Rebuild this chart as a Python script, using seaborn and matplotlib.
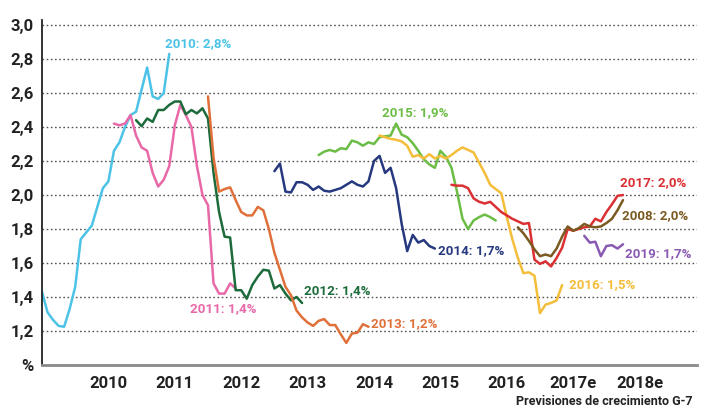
import numpy as np
import pandas as pd
import matplotlib
matplotlib.use("Agg")
import matplotlib.pyplot as plt
import seaborn as sns

# ---------------- data ----------------
series_names = ["2010", "2011", "2012", "2013", "2014", "2015", "2016", "2017", "2008", "2019"]
start_months = ["2009-01", "2010-02", "2010-06", "2011-07", "2012-07",
                "2013-03", "2014-02", "2015-03", "2016-03", "2017-03"]
label_texts = ["2010: 2,8%", "2011: 1,4%", "2012: 1,4%", "2013: 1,2%", "2014: 1,7%",
               "2015: 1,9%", "2016: 1,5%", "2017: 2,0%", "2008: 2,0%", "2019: 1,7%"]

v2010 = [1.43, 1.31, 1.265, 1.23, 1.225, 1.33, 1.46, 1.74, 1.78, 1.82, 1.93, 2.04,
         2.08, 2.26, 2.31, 2.40, 2.47, 2.49, 2.62, 2.75, 2.58, 2.565, 2.60, 2.83]
v2011 = [2.42, 2.41, 2.42, 2.47, 2.35, 2.28, 2.26, 2.13, 2.05, 2.09, 2.17,
         2.41, 2.53, 2.47, 2.40, 2.17, 2.00, 1.94, 1.48, 1.42, 1.42, 1.48, 1.45]
v2012 = [2.44, 2.405, 2.45, 2.43, 2.50, 2.50, 2.53,
         2.55, 2.55, 2.475, 2.50, 2.48, 2.51, 2.45, 2.13, 1.90, 1.755, 1.75, 1.44,
         1.44, 1.39, 1.47, 1.52, 1.56, 1.555, 1.45, 1.47, 1.42, 1.38, 1.40, 1.365]
v2013 = [2.58, 2.22, 2.02, 2.035, 2.045, 1.97,
         1.90, 1.88, 1.88, 1.93, 1.91, 1.80, 1.66, 1.56, 1.46, 1.41, 1.32, 1.28,
         1.25, 1.23, 1.26, 1.27, 1.235, 1.235, 1.18, 1.13, 1.185, 1.19, 1.24, 1.225]
v2014 = [2.14, 2.185, 2.02, 2.015, 2.075, 2.075,
         2.06, 2.03, 2.05, 2.025, 2.02, 2.03, 2.04, 2.06, 2.08, 2.06, 2.05, 2.08,
         2.20, 2.23, 2.13, 2.16, 2.04, 1.83, 1.67, 1.765, 1.72, 1.735, 1.70, 1.685]
v2015 = [2.235, 2.255, 2.265, 2.255, 2.275, 2.27, 2.32, 2.31, 2.29, 2.31,
         2.30, 2.34, 2.345, 2.35, 2.42, 2.355, 2.34, 2.305, 2.26, 2.21, 2.18, 2.16,
         2.26, 2.225, 2.16, 2.02, 1.86, 1.80, 1.85, 1.87, 1.885, 1.87, 1.85]
v2016 = [2.35, 2.34, 2.33, 2.325, 2.315, 2.29, 2.225, 2.235, 2.215, 2.24, 2.215,
         2.23, 2.215, 2.235, 2.26, 2.28, 2.265, 2.25, 2.19, 2.13, 2.06, 2.035, 2.01,
         1.87, 1.74, 1.63, 1.54, 1.545, 1.525, 1.305, 1.355, 1.365, 1.38, 1.47]
v2017 = [2.06, 2.055, 2.055, 2.04, 1.98, 1.96, 1.95, 1.96, 1.93, 1.90,
         1.88, 1.86, 1.845, 1.83, 1.835, 1.62, 1.595, 1.61, 1.58, 1.63, 1.69, 1.80,
         1.79, 1.80, 1.81, 1.815, 1.86, 1.845, 1.90, 1.945, 1.995, 2.00]
v2008 = [1.81, 1.775, 1.73, 1.68, 1.64, 1.65, 1.64, 1.685, 1.755, 1.815,
         1.79, 1.805, 1.83, 1.815, 1.81, 1.815, 1.835, 1.86, 1.91, 1.97]
v2019 = [1.76, 1.72, 1.725, 1.64, 1.70, 1.705, 1.685, 1.71]

all_values = [v2010, v2011, v2012, v2013, v2014, v2015, v2016, v2017, v2008, v2019]

x_ticks = [2010, 2011, 2012, 2013, 2014, 2015, 2016, 2017, 2018]
x_tick_labels = ["2010", "2011", "2012", "2013", "2014", "2015", "2016", "2017e", "2018e"]
y_ticks = [1.0, 1.2, 1.4, 1.6, 1.8, 2.0, 2.2, 2.4, 2.6, 2.8, 3.0]
y_tick_labels = ["%", "1,2", "1,4", "1,6", "1,8", "2,0", "2,2", "2,4", "2,6", "2,8", "3,0"]

colors = ["#4cc3e6", "#e868a8", "#1d6b3b", "#e0703a", "#26397f",
          "#6cbd45", "#f4bd3a", "#da3033", "#7b5a22", "#8a5ab3"]

# label anchor positions (x in years, y in value units), left-aligned
label_pos = [(2010.85, 2.89), (2011.23, 1.33), (2012.95, 1.44), (2013.955, 1.245),
             (2014.97, 1.675), (2014.12, 2.485), (2016.93, 1.47), (2017.70, 2.075),
             (2017.73, 1.878), (2017.78, 1.657)]

# ---------------- build table ----------------
frames = []
for name, start, vals in zip(series_names, start_months, all_values):
    d = pd.date_range(start, periods=len(vals), freq="MS")
    frames.append(pd.DataFrame({"x": d.year + (d.month - 1) / 12.0,
                                "value": vals, "series": name}))
df = pd.concat(frames, ignore_index=True)

# ---------------- plot ----------------
sns.set_style("white")
plt.rcParams["font.family"] = ["Roboto", "Liberation Sans", "DejaVu Sans"]

fig = plt.figure(figsize=(7.05, 4.15), dpi=100)
ax = fig.add_axes([42 / 705, 1 - 365 / 415, (697 - 42) / 705, 345 / 415])

sns.lineplot(data=df, x="x", y="value", hue="series", hue_order=series_names,
             palette=dict(zip(series_names, colors)), estimator=None, sort=False,
             linewidth=1.8, legend=False, ax=ax)

ax.set_xlim(2009.0, 2009.0 + 655 / 66.4)
ax.set_ylim(1.0, 1.0 + 345 / 170)

for yv in y_ticks[1:]:
    ax.axhline(yv, color="#555555", lw=1.0, ls=(0, (1.2, 1.8)), zorder=0)

ax.set_xticks(x_ticks)
ax.set_xticklabels(x_tick_labels, fontsize=12, fontweight="bold", color="#222222")
ax.set_yticks(y_ticks)
ax.set_yticklabels(y_tick_labels, fontsize=12, fontweight="bold", color="#222222")
ax.tick_params(axis="x", length=4, width=1.2, color="#888888", pad=4)
ax.tick_params(axis="y", length=3, width=1.0, color="#222222", pad=3)
ax.set_xlabel("")
ax.set_ylabel("")

for s in ["top", "right"]:
    ax.spines[s].set_visible(False)
ax.spines["left"].set_color("#222222")
ax.spines["left"].set_linewidth(1.3)
ax.spines["bottom"].set_color("#8a8a8a")
ax.spines["bottom"].set_linewidth(2.0)

for (lx, ly), txt, c in zip(label_pos, label_texts, colors):
    ax.text(lx, ly, txt, color=c, fontsize=9.6, fontweight="bold",
            ha="left", va="center")

fig.text(692 / 705, 1 - 401 / 415, "Previsiones de crecimiento G-7", ha="right",
         va="center", fontsize=9, fontweight="bold", color="#222222")

fig.savefig("out.png", dpi=100)
